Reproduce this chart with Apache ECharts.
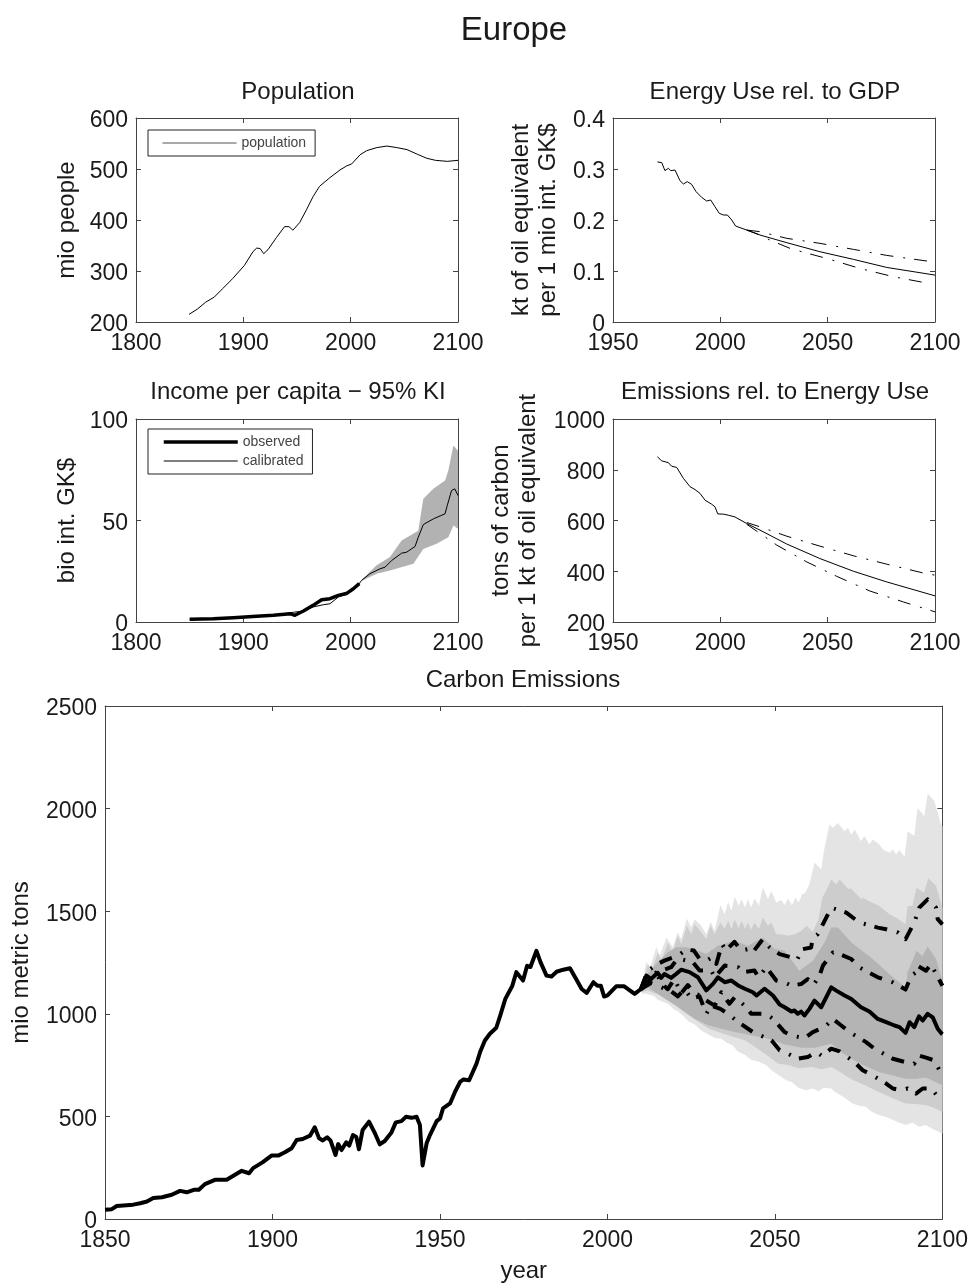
<!DOCTYPE html>
<html>
<head>
<title>Europe</title>
<meta charset="utf-8">
<script src="https://cdn.jsdelivr.net/npm/echarts@6/dist/echarts.min.js"></script>
</head>
<body style="margin:0;background:#fff">
	<div id="main" style="width:971px;height:1284px"></div>
<script>
// Population
var popYears = [1849.4,1857,1865,1873,1881,1890,1901,1909,1912.5,1915.6,1919,1923,1931,1938.4,1942.5,1946.2,1952.5,1958.8,1965,1971,1980.6,1990,1996.2,2001,2008.8,2015,2024.4,2033.8,2043,2052.5,2062,2071,2079,2090,2100];
var popValues = [215,225,239,249,266,285,311,338,345,344,334,342,366,387,387,380,395,420,446,466,483,498,506,510,528,536,542,545,542,538,529,521,517,515,517];

// Energy use rel. to GDP
var energyYears = [1970.7,1972.7,1974.2,1975.8,1976.9,1978.9,1981.2,1982.8,1984.6,1986.6,1988.7,1991.3,1993.6,1995.5,1997.5,1999.5,2001.4,2003.3,2005.3,2007.1,2012.3,2018.5,2031,2046.4,2062,2077.5,2100];
var energyValues = [.3138,.3125,.2968,.3013,.2968,.298,.277,.2706,.2752,.27,.2556,.2444,.2372,.2392,.2261,.2131,.2098,.2098,.2,.1882,.1803,.1705,.1555,.1378,.1228,.107,.092];
var energyHiYears = [2012.3,2018.5,2031,2046.4,2062,2077.5,2098.5];
var energyHi = [.1803,.1771,.164,.1542,.1424,.1306,.1182];
var energyLoYears = [2012.3,2018.5,2023.1,2033.2,2049.5,2065,2080.6,2097];
var energyLo = [.1803,.1705,.1607,.1431,.1247,.1051,.0888,.0757];

// Income per capita
var obsYears = [1850,1872,1890.7,1912.4,1928,1943.5,1948,1956,1965,1973,1980.7,1988.5,1996,2002.5,2008];
var obsValues = [1.3,1.6,2.1,2.8,3.3,4.1,3.3,5.4,8.2,11,11.5,13.1,14,16.4,18.9];
var calYears = [1850,1872,1890.7,1912.4,1928,1946.6,1956,1965,1974.5,1980.7,1988.5,1996,2005.6,2010.2,2018,2027.3,2032,2038.2,2047.5,2052.2,2060,2063,2067.7,2077,2087.9,2090,2094,2097,2100];
var calValues = [1.1,1.5,2,2.7,3.2,4.8,5.4,7.4,8.5,9,12.3,13.6,17.2,20.5,23.8,26.2,27,30.3,33.9,34.4,37.2,41.8,48,50.8,53.3,57.4,64.8,65.6,62.3];
var incHiYears = [2010.2,2024.2,2036.6,2047.5,2063,2067.7,2077,2088,2091,2095.7,2100];
var incHi = [20.8,27.9,32,40.2,45,60.7,65.6,69.7,74.6,86.9,84.4];
var incLoYears = [2010.2,2024.2,2036.6,2058.4,2067.7,2080,2091,2095.7,2100];
var incLo = [20.2,23.8,25.4,28.7,36,38.5,41.8,47.5,45.9];

// Emissions rel. to energy use
var carbonYears = [1970.7,1972.7,1975.8,1977.3,1979.7,1982.8,1985.9,1988.2,1990.5,1992.9,1996,1997.5,1998.8,2001.4,2003.7,2006.8,2012.3,2018.5,2031,2046.4,2062,2077.5,2100];
var carbonValues = [851,835,828,814,809,766,733,722,707,680,664,654,626,625,621,614,588,562,507,450,400,358,303];
var carbonHiYears = [2012.3,2018.5,2031,2046.4,2062,2077.5,2097,2100];
var carbonHi = [592,575,538,499,461,428,388,385];
var carbonLoYears = [2012.3,2018.5,2026.3,2040.2,2054.2,2069.7,2085.3,2100];
var carbonLo = [585,549,503,437,380,322,279,240];

// Carbon emissions, median
var emYears = [1850,1852,1853.5,1858.4,1860.5,1862.5,1864.4,1867,1869.9,1872.4,1874.4,1876.5,1878,1879.8,1882.8,1886.3,1890.8,1893,1894.2,1897,1899.7,1901.7,1903.7,1905.7,1907.2,1909,1911.2,1912.6,1913.9,1915,1916.3,1917.3,1918.8,1919.6,1920.6,1922,1922.9,1924,1925,1925.8,1926.9,1928.8,1930.6,1932,1933.5,1935.5,1936.8,1938.5,1939.8,1941.5,1943,1944,1944.8,1946,1947,1949,1950,1950.9,1953,1954.5,1956,1957,1958.7,1960.9,1962,1963.4,1964.9,1966.8,1968,1969.5,1971.6,1972.8,1974.8,1976,1977,1978.8,1980,1981.8,1983.3,1984.8,1986.8,1988.8,1990.3,1992.3,1993.8,1995.8,1997,1998,1999,2000,2002.6,2005,2008.1,2010,2011.6,2013,2015,2016,2017,2019,2020.5,2022,2024.5,2027,2029.5,2031.5,2033,2035,2037,2039,2041,2043.4,2044.5,2046.9,2049.4,2051.4,2052.9,2054.9,2055.8,2056.8,2057.8,2058.8,2060.3,2061.8,2063.8,2066.8,2068.3,2070.8,2072.8,2075.7,2078.2,2080.7,2083.2,2085.7,2087.2,2089,2090.2,2091.6,2093,2094.1,2095.6,2097.1,2098.6,2099.8,2100];
var emValues = [45,48,63,70,77,85,102,106,118,137,130,142,143,170,191,191,235,223,248,276,309,309,325,345,385,390,406,447,393,383,398,383,312,365,336,374,358,409,400,340,434,474,417,364,380,422,471,477,498,493,498,458,261,369,409,477,490,539,563,620,668,680,676,757,815,870,903,932,992,1073,1137,1203,1162,1234,1228,1307,1252,1186,1182,1205,1215,1222,1179,1121,1102,1154,1137,1137,1084,1090,1134,1134,1097,1121,1186,1170,1200,1175,1194,1175,1194,1215,1203,1178,1114,1146,1178,1154,1162,1138,1122,1105,1089,1122,1089,1045,1032,1011,1016,1000,1011,992,1024,1064,1032,1129,1113,1089,1072,1032,1011,975,959,943,935,907,959,935,988,967,1000,983,927,903,900];

// Carbon emissions, quantile lines
var q1Years = [2010,2012,2015,2017,2021,2023.5,2025.8,2027.5,2029.5,2031.2,2032.5,2034.2,2035.4,2037.9,2039.9,2041.9,2043.4,2046.4,2048.4,2051.4,2054.9,2056.5,2058.3,2060.8,2061.3,2062.8,2064.3,2066.8,2068.3,2071.3,2075.2,2080.7,2083.2,2086.7,2089,2091.6,2093.1,2095.6,2098.1,2098.6,2100];
var q1Values = [1121,1210,1243,1259,1283,1313,1308,1267,1259,1275,1243,1340,1308,1351,1308,1315,1300,1364,1324,1291,1275,1260,1315,1323,1372,1388,1436,1517,1509,1493,1445,1420,1412,1396,1364,1445,1517,1558,1517,1461,1436];
var q2Years = [2010,2012,2015,2019,2021,2025.5,2027.5,2031,2032,2035,2039,2040.4,2043.9,2045.1,2047.4,2050.4,2052.8,2054.9,2057.8,2059.8,2061.5,2063.3,2064.3,2067.3,2069.3,2072.8,2075.2,2080.7,2085.2,2089,2090.7,2092.1,2092.6,2095.1,2096.6,2098.1,2100];
var q2Values = [1121,1190,1203,1227,1270,1251,1211,1211,1178,1235,1227,1203,1211,1178,1227,1162,1154,1137,1145,1169,1140,1186,1234,1299,1291,1267,1226,1178,1153,1118,1186,1202,1234,1210,1242,1194,1137];
var q3Years = [2010,2013,2015,2016,2018,2020,2022,2024,2026,2027.5,2029,2032,2034,2036.4,2038,2041.4,2042.9,2047.4,2049.4,2052.9,2054.9,2057.3,2059.3,2061.3,2064.8,2067.3,2069.8,2072.3,2077.2,2079.7,2085.2,2089.6,2091.6,2093,2095.1,2097.6,2099.1,2100];
var q3Values = [1121,1170,1186,1150,1120,1170,1100,1140,1100,1090,1070,1040,1105,1049,1081,1033,1000,1000,976,911,894,886,886,911,935,975,943,911,862,830,781,762,757,797,786,773,725,716];
var q4Years = [2010,2013,2016,2019,2021,2023,2025,2027.5,2029.5,2031,2033.7,2036,2039,2043.4,2049,2051.4,2052.9,2056.8,2059.8,2062.3,2064,2066.8,2069.3,2073.7,2076.2,2079.2,2083.2,2085.2,2087.7,2089.6,2092.1,2094.1,2096.6,2099.1,2100];
var q4Values = [1121,1150,1130,1110,1085,1120,1075,1085,1000,1040,1024,1000,960,911,870,822,814,781,789,814,795,830,817,765,725,700,660,636,627,636,611,636,636,587,580];

// Carbon emissions, shaded bands
var lightTopYears = [2010.1,2011.6,2012.6,2014.6,2015.6,2017.6,2019.5,2021,2022,2023.7,2025,2026,2028,2029.5,2030.8,2032,2033.7,2035,2036,2037,2038,2039.2,2040,2041.1,2041.9,2042.9,2043.9,2045.2,2046.4,2047.9,2048.9,2050.4,2051.9,2052.9,2053.9,2055.1,2056.1,2057.1,2058.1,2059.1,2060.3,2061.8,2063.8,2064.8,2066.3,2067.3,2068.8,2070.8,2071.8,2072.8,2073.8,2075.7,2076.7,2078.2,2079.2,2081.2,2082.2,2084.2,2085.2,2086.2,2087.2,2088.7,2089.6,2091.6,2092.6,2094.6,2095.6,2097.6,2099.6,2100];
var lightTop = [1130,1254,1218,1324,1283,1372,1324,1397,1364,1464,1421,1461,1429,1388,1448,1405,1529,1485,1545,1502,1571,1526,1558,1518,1558,1518,1562,1526,1615,1558,1599,1542,1555,1529,1562,1529,1566,1542,1583,1591,1631,1736,1704,1809,1922,1906,1930,1890,1906,1874,1898,1841,1866,1825,1850,1825,1801,1785,1801,1777,1798,1765,1890,1866,2003,1963,2073,2036,1922,1914];
var lightBotYears = [2010.1,2012,2014,2015,2017,2018,2020,2021,2023,2024,2026,2028,2030.5,2032,2034,2035.5,2037.4,2039,2041,2043,2045,2047.4,2049,2051,2053.4,2055,2057,2059.3,2061.3,2063,2064.5,2066.8,2068,2070,2073.2,2075,2077,2079,2081.2,2083,2085,2087,2089.2,2091,2093,2095,2097,2100];
var lightBot = [1100,1097,1085,1068,1055,1049,1020,1012,984,965,948,919,895,882,879,860,846,815,800,775,768,749,725,702,676,668,640,628,636,622,640,636,618,600,563,552,548,522,506,498,485,470,458,470,450,458,440,417];
var midTopYears = [2010.1,2012.1,2013.1,2015.1,2016.1,2018.1,2019.4,2021,2022,2023.7,2025,2026,2028,2029.5,2030.8,2032,2033.7,2035,2036,2037,2038,2039.2,2040,2041.1,2041.9,2042.9,2043.9,2045.2,2046.4,2047.9,2048.9,2050.4,2051.9,2053.9,2055.9,2057.9,2059.4,2061.3,2063,2064.1,2065.3,2066.8,2068.3,2069.3,2071.8,2072.8,2075.7,2076.2,2078,2081.2,2084.2,2086,2089,2089.6,2091,2092.3,2094.5,2095.8,2098.1,2100];
var midTop = [1121,1243,1210,1299,1259,1348,1299,1380,1340,1429,1388,1437,1397,1364,1429,1388,1445,1413,1453,1413,1458,1416,1453,1413,1445,1409,1445,1413,1469,1429,1445,1388,1388,1380,1388,1405,1429,1400,1460,1566,1600,1655,1630,1655,1610,1610,1560,1566,1550,1525,1485,1470,1436,1525,1525,1614,1590,1660,1623,1517];
var midBotYears = [2010.1,2012,2014,2016,2018,2020,2023,2025,2028,2030,2033,2037,2041,2044,2047,2051,2054,2057,2061,2064,2067,2070,2073,2077,2081,2085,2089,2092,2095,2097,2100];
var midBot = [1105,1114,1100,1090,1073,1045,1008,985,952,930,911,890,871,840,805,757,750,735,741,730,741,710,680,650,619,590,563,560,555,545,522];
var darkTopYears = [2010.1,2012,2015,2018,2020.5,2023.5,2026,2029.5,2033,2037.9,2041.9,2046.4,2049.9,2052.8,2057.3,2061.3,2064.8,2066.8,2068.8,2072.8,2079.2,2085.2,2089,2089.6,2092.3,2094,2095.6,2098.1,2100];
var darkTop = [1115,1195,1251,1300,1324,1324,1315,1292,1332,1356,1332,1372,1316,1308,1210,1258,1347,1420,1420,1347,1267,1178,1129,1202,1307,1280,1328,1267,1161];
var darkBotYears = [2010.1,2012,2016,2021,2026,2030,2038,2048,2053,2058,2062,2066.8,2070,2075,2081,2085,2089,2092,2095,2097,2100];
var darkBot = [1108,1130,1085,1033,976,944,911,879,850,835,835,854,810,760,716,700,684,682,690,675,652];

var fontName = '"Liberation Sans", Arial, sans-serif';
var textColor = '#1a1a1a';
var frameColor = '#444';

function zip(xs, ys) {
	return xs.map(function (x, i) { return [x, ys[i]]; });
}

// grids: plot frames
var frames = [
	{ left: 136, top: 118, width: 322, height: 204, xMin: 1800, xMax: 2100, xStep: 100, yMin: 200, yMax: 600, yStep: 100, name: 'mio people', gap: 55 },
	{ left: 613, top: 118, width: 322, height: 204, xMin: 1950, xMax: 2100, xStep: 50, yMin: 0, yMax: 0.4, yStep: 0.1, name: 'kt of oil equivalent\nper 1 mio int. GK$', gap: 51 },
	{ left: 136, top: 419, width: 322, height: 203, xMin: 1800, xMax: 2100, xStep: 100, yMin: 0, yMax: 100, yStep: 50, name: 'bio int. GK$', gap: 55 },
	{ left: 613, top: 419, width: 322, height: 203, xMin: 1950, xMax: 2100, xStep: 50, yMin: 200, yMax: 1000, yStep: 200, name: 'tons of carbon\nper 1 kt of oil equivalent', gap: 71 },
	{ left: 105, top: 706, width: 838, height: 515, xMin: 1850, xMax: 2100, xStep: 50, yMin: 0, yMax: 2500, yStep: 500, name: 'mio metric tons', gap: 69, xName: 'year' }
];

var grids = [], xAxes = [], yAxes = [];
frames.forEach(function (f, i) {
	grids.push({ left: f.left, top: f.top, width: f.width, height: f.height });
	var line = { show: true, onZero: false, lineStyle: { color: frameColor, width: 1 } };
	var tick = { show: true, inside: true, length: 5, lineStyle: { color: frameColor, width: 1 } };
	var format = function (v) { return String(v); };
	var xLabel = { color: textColor, fontFamily: fontName, fontSize: 23, margin: 10, showMinLabel: true, showMaxLabel: true, hideOverlap: false, formatter: format };
	// labels sit a little below their tick in the reference
	var yLabel = { color: textColor, fontFamily: fontName, fontSize: 23, margin: 8, verticalAlign: 'top', lineHeight: 6, showMinLabel: true, showMaxLabel: true, hideOverlap: false, formatter: format };
	xAxes.push({ type: 'value', gridIndex: i, position: 'bottom', min: f.xMin, max: f.xMax, interval: f.xStep, splitLine: { show: false }, axisLine: line, axisTick: tick, axisLabel: xLabel,
		name: f.xName || '', nameLocation: 'middle', nameGap: 40, nameTextStyle: { color: textColor, fontFamily: fontName, fontSize: 24 } });
	xAxes.push({ type: 'value', gridIndex: i, position: 'top', min: f.xMin, max: f.xMax, interval: f.xStep, splitLine: { show: false }, axisLine: line, axisTick: tick, axisLabel: { show: false } });
	yAxes.push({ type: 'value', gridIndex: i, position: 'left', min: f.yMin, max: f.yMax, interval: f.yStep, splitLine: { show: false }, axisLine: line, axisTick: tick, axisLabel: yLabel,
		name: f.name, nameLocation: 'middle', nameGap: f.gap, nameRotate: 90, nameTextStyle: { color: textColor, fontFamily: fontName, fontSize: 24, lineHeight: 27 } });
	yAxes.push({ type: 'value', gridIndex: i, position: 'right', min: f.yMin, max: f.yMax, interval: f.yStep, splitLine: { show: false }, axisLine: line, axisTick: tick, axisLabel: { show: false } });
});

function lineSeries(i, name, xs, ys, width, dashed) {
	return {
		type: 'line', name: name, xAxisIndex: i * 2, yAxisIndex: i * 2, data: zip(xs, ys),
		showSymbol: false, symbol: 'none', z: 5, animation: false,
		lineStyle: { color: '#000', width: width, type: dashed ? [13, 10, 2, 9] : 'solid', join: 'round', cap: 'butt' }
	};
}

// filled region between an upper and a lower edge
function bandSeries(i, topX, topY, botX, botY, fill, z) {
	var edge = zip(topX, topY).concat(zip(botX, botY).reverse());
	return {
		type: 'custom', xAxisIndex: i * 2, yAxisIndex: i * 2, z: z, animation: false, silent: true,
		data: [[topX[0], topY[0]]],
		clip: true,
		renderItem: function (params, api) {
			return { type: 'polygon', shape: { points: edge.map(function (p) { return api.coord(p); }) }, style: { fill: fill } };
		}
	};
}

var series = [
	lineSeries(0, 'population', popYears, popValues, 1),
	lineSeries(1, 'energy', energyYears, energyValues, 1),
	lineSeries(1, 'energy hi', energyHiYears, energyHi, 1, true),
	lineSeries(1, 'energy lo', energyLoYears, energyLo, 1, true),
	bandSeries(2, incHiYears, incHi, incLoYears, incLo, '#b2b2b2', 2),
	lineSeries(2, 'observed', obsYears, obsValues, 3.5),
	lineSeries(2, 'calibrated', calYears, calValues, 1),
	lineSeries(3, 'carbon', carbonYears, carbonValues, 1),
	lineSeries(3, 'carbon hi', carbonHiYears, carbonHi, 1, true),
	lineSeries(3, 'carbon lo', carbonLoYears, carbonLo, 1, true),
	bandSeries(4, lightTopYears, lightTop, lightBotYears, lightBot, '#e4e4e4', 1),
	bandSeries(4, midTopYears, midTop, midBotYears, midBot, '#cdcdcd', 2),
	bandSeries(4, darkTopYears, darkTop, darkBotYears, darkBot, '#b4b4b4', 3),
	lineSeries(4, 'q1', q1Years, q1Values, 4, true),
	lineSeries(4, 'q2', q2Years, q2Values, 4, true),
	lineSeries(4, 'q3', q3Years, q3Values, 4, true),
	lineSeries(4, 'q4', q4Years, q4Values, 4, true),
	lineSeries(4, 'emissions', emYears, emValues, 4)
];

function titleAt(text, x, y, size) {
	return { text: text, left: x, top: y, textAlign: 'center', padding: 0, textStyle: { color: textColor, fontFamily: fontName, fontSize: size, fontWeight: 'normal' } };
}

function legendAt(names, x, y) {
	return {
		data: names, left: x, top: y, orient: 'vertical', selectedMode: false,
		itemWidth: 74, itemHeight: 8, itemGap: 5, padding: [6, 9, 6, 14],
		itemStyle: { opacity: 0 },
		borderColor: '#222', borderWidth: 1, backgroundColor: '#fff', borderRadius: 0,
		textStyle: { color: '#444', fontFamily: fontName, fontSize: 14 }
	};
}

var myChart = echarts.init(document.getElementById('main'));
myChart.setOption({
	animation: false,
	backgroundColor: '#fff',
	title: [
		titleAt('Europe', 514, 14, 33),
		titleAt('Population', 298, 80, 24),
		titleAt('Energy Use rel. to GDP', 775, 80, 24),
		titleAt('Income per capita \u2212 95% KI', 298, 380, 24),
		titleAt('Emissions rel. to Energy Use', 775, 380, 24),
		titleAt('Carbon Emissions', 523, 668, 24)
	],
	legend: [
		legendAt([{ name: 'population', lineStyle: { width: 1, color: '#555' } }], 148, 130),
		legendAt([{ name: 'observed', lineStyle: { width: 3.5 } }, { name: 'calibrated', lineStyle: { width: 1 } }], 148, 429)
	],
	grid: grids,
	xAxis: xAxes,
	yAxis: yAxes,
	series: series
});
</script>
</body>
</html>
